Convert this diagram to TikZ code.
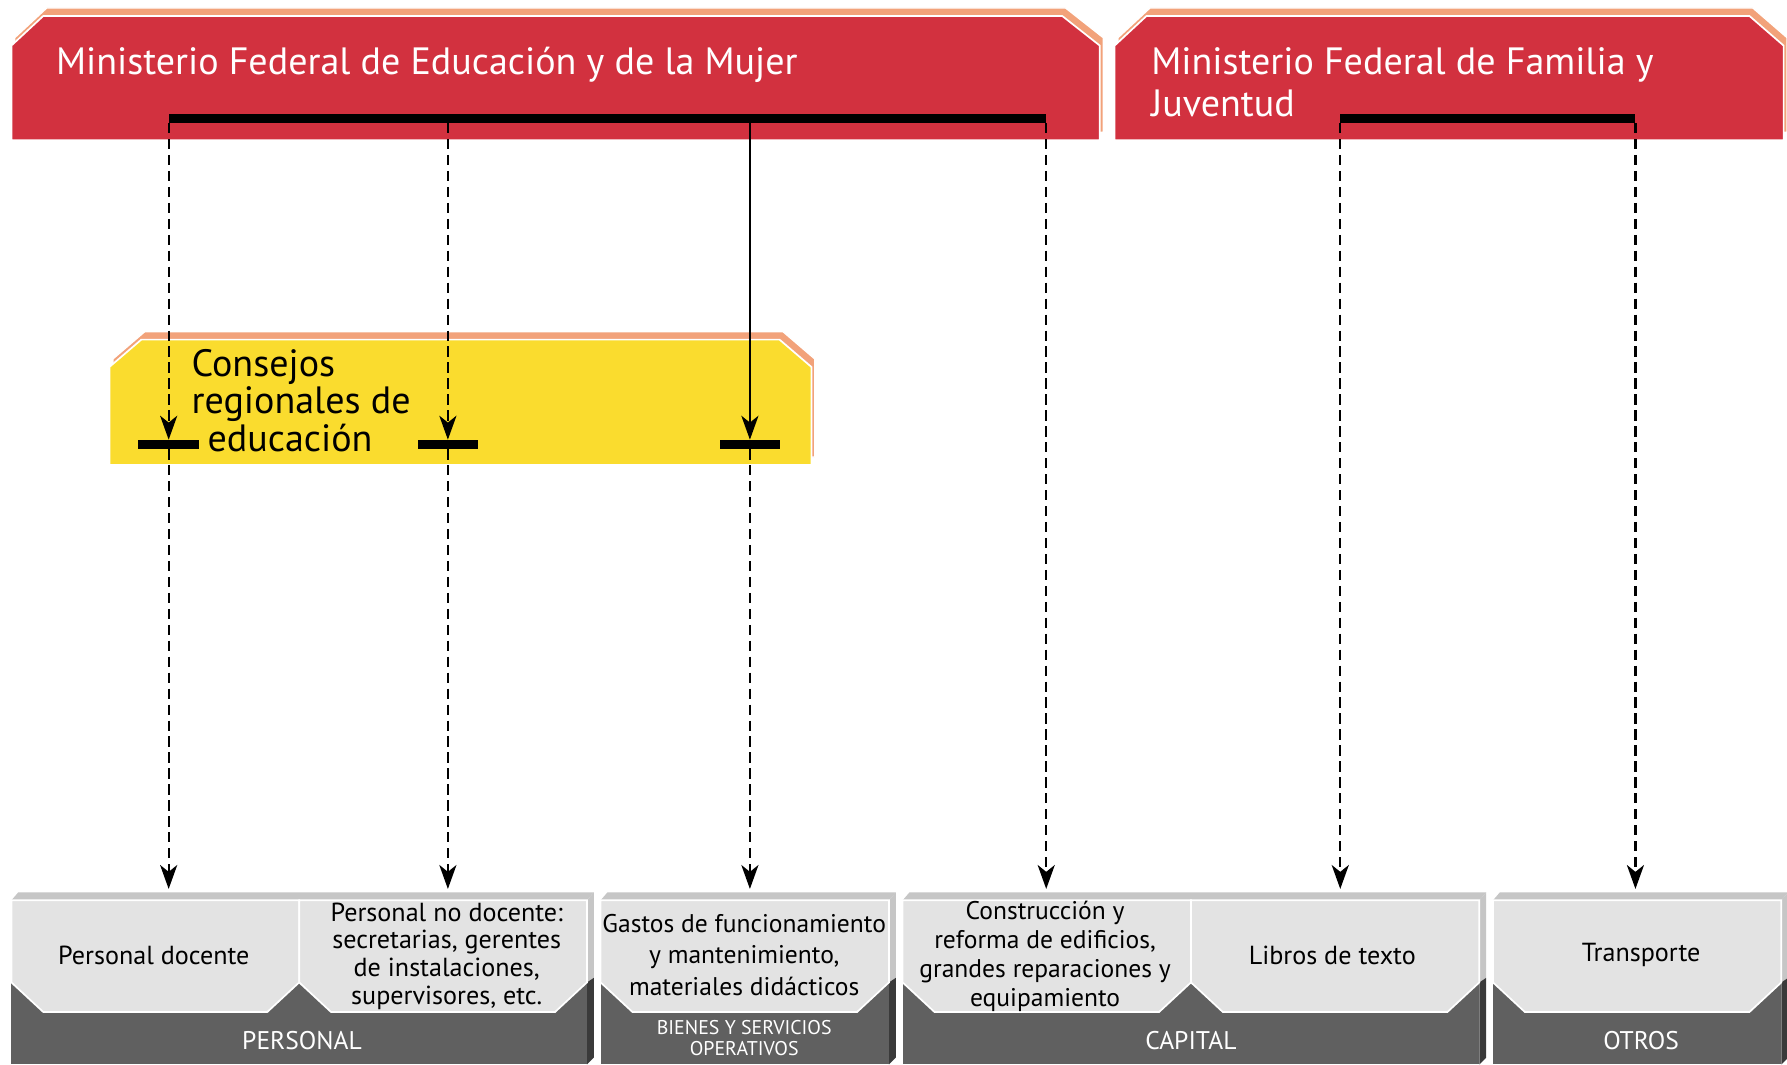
\documentclass[tikz,border=0pt]{standalone}
\usepackage{fontspec}
\setmainfont{PT Sans}
\usetikzlibrary{arrows.meta}
\definecolor{redbox}{HTML}{D2313F}
\definecolor{orangeband}{HTML}{F2A27A}
\definecolor{yellowbox}{HTML}{FADC2E}
\definecolor{lightcell}{HTML}{E3E3E3}
\definecolor{darkbase}{HTML}{606060}
\definecolor{bevel}{HTML}{C6C6C6}
\definecolor{sidedark}{HTML}{3A3A3A}
\begin{document}
\begin{tikzpicture}[x=1bp,y=-1bp,
  conn/.style={line width=2bp,-{Stealth[length=21bp,width=15bp,inset=6bp]}},
  dconn/.style={conn,dash pattern=on 9bp off 5bp},
  hbar/.style={fill=black,draw=none,inner sep=0pt,minimum height=8bp},
  titletext/.style={text=white,inner sep=0pt,anchor=base west,font=\fontsize{33.5}{37}\selectfont},
  celltext/.style={align=center,inner sep=0pt,text=black,font=\fontsize{23}{24.5}\selectfont},
  grouplabel/.style={text=white,inner sep=0pt,font=\fontsize{22.5}{24}\selectfont},
  smalllabel/.style={text=white,inner sep=0pt,align=center,font=\fontsize{17.5}{18.5}\selectfont},
  band/.style={fill=orangeband,draw=white,line width=1.2bp},
  cellshape/.style={fill=lightcell,draw=white,line width=1.5bp}]
\useasboundingbox (0,0) rectangle (1568,934);
\fill[white] (0,0) rectangle (1568,934);

% ---------- top red boxes ----------
\begin{scope}[shift={(3,-7)}]
  \path[band] (10,123) -- (10,40) -- (38,14) -- (932,14) -- (965,40) -- (965,123) -- cycle;
  \path[band] (978,123) -- (978,40) -- (1006,14) -- (1535,14) -- (1565,40) -- (1565,123) -- cycle;
\end{scope}
\path[fill=redbox,draw=white,line width=1.5bp] (10,123) -- (10,40) -- (38,14) -- (932,14) -- (965,40) -- (965,123) -- cycle;
\path[fill=redbox,draw=white,line width=1.5bp] (978,123) -- (978,40) -- (1006,14) -- (1535,14) -- (1565,40) -- (1565,123) -- cycle;
\node[titletext] (t1) at (49,65) {Ministerio Federal de Educación y de la Mujer};
\node[titletext] (t2a) at (1010,65) {Ministerio Federal de Familia y};
\node[titletext] (t2b) at (1010,102) {Juventud};

% ---------- yellow box ----------
\begin{scope}[shift={(3,-7)}]
  \path[band] (96,408) -- (96,322) -- (124,298) -- (684,298) -- (712,322) -- (712,408) -- cycle;
\end{scope}
\path[fill=yellowbox,draw=white,line width=1.5bp] (96,408) -- (96,322) -- (124,298) -- (684,298) -- (712,322) -- (712,408) -- cycle;
\node[inner sep=0pt,anchor=base west,align=left,font=\fontsize{33.5}{33}\selectfont] (cons) at (168,396)
  {Consejos\\regionales de\\\hspace*{14bp}educación};

% ---------- bottom groups ----------
\foreach \xa/\xb in {10/515,527/780,792/1298,1310/1563}{
  \fill[bevel] (\xa,790) -- (\xa+6,783) -- (\xb+6,783) -- (\xb,790) -- cycle;
  \fill[bevel] (\xb,790) -- (\xb+6,783) -- (\xb+6,858) -- (\xb,862) -- cycle;
  \fill[sidedark] (\xb,862) -- (\xb+6,858) -- (\xb+6,928) -- (\xb,934) -- cycle;
  \fill[darkbase] (\xa,860) rectangle (\xb,934);
}
\foreach \xa/\xb in {10/262.5,262.5/515,527/780,792/1045,1045/1298,1310/1563}{
  \path[cellshape] (\xa,790) -- (\xb,790) -- (\xb,862) -- (\xb-28,888) -- (\xa+28,888) -- (\xa,862) -- cycle;
}
\node[celltext] (c1) at (135,838) {Personal docente};
\node[celltext] (c2) at (392,839) {Personal no docente:\\secretarias, gerentes\\de instalaciones,\\supervisores, etc.};
\node[celltext,font=\fontsize{22.5}{28}\selectfont] (c3) at (653,838) {Gastos de funcionamiento\\y mantenimiento,\\materiales didácticos};
\node[celltext,font=\fontsize{22.5}{25.5}\selectfont] (c4) at (917,839) {Construcción y\\reforma de edificios,\\grandes reparaciones y\\equipamiento};
\node[celltext] (c5) at (1169,838) {Libros de texto};
\node[celltext] (c6) at (1440,838) {Transporte};
\node[grouplabel] (g1) at (265,913) {PERSONAL};
\node[smalllabel] (g2) at (653,911) {BIENES Y SERVICIOS\\OPERATIVOS};
\node[grouplabel] (g3) at (1045,913) {CAPITAL};
\node[grouplabel] (g4) at (1440,913) {OTROS};

% ---------- bars ----------
\node[hbar,minimum width=770bp] (barA) at (533,104) {};
\node[hbar,minimum width=259bp] (barB) at (1305.5,104) {};
\node[hbar,minimum width=53bp] (sb1) at (148,390) {};
\node[hbar,minimum width=53bp] (sb2) at (393,390) {};
\node[hbar,minimum width=53bp] (sb3) at (658,390) {};

\coordinate (a1) at (148,108);
\coordinate (a2) at (393,108);
\coordinate (a3) at (658,108);
\coordinate (a4) at (918,108);
\coordinate (b1) at (1176,108);
\coordinate (b2) at (1435,108);
\coordinate (e1) at (148,780);
\coordinate (e2) at (393,780);
\coordinate (e3) at (658,780);
\coordinate (e4) at (918,780);
\coordinate (e5) at (1176,780);
\coordinate (e6) at (1435,780);

% ---------- connectors ----------
\draw[dconn] (a1) -- (sb1.north);
\draw[dconn] (a2) -- (sb2.north);
\draw[conn] (a3) -- (sb3.north);
\draw[dconn] (sb1.south) -- (e1);
\draw[dconn] (sb2.south) -- (e2);
\draw[dconn] (sb3.south) -- (e3);
\draw[dconn] (a4) -- (e4);
\draw[dconn] (b1) -- (e5);
\draw[dconn] (b2) -- (e6);
\end{tikzpicture}
\end{document}
